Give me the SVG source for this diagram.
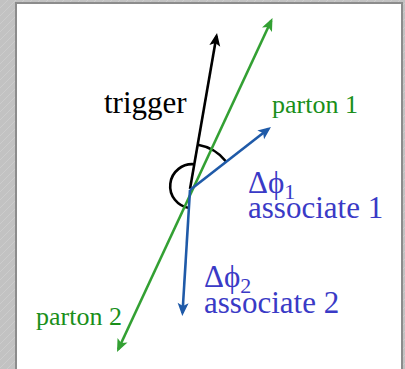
<svg xmlns="http://www.w3.org/2000/svg" width="405" height="369" viewBox="0 0 405 369">
<style>
.ln{fill:none;stroke-width:2.6;stroke-linecap:butt}
.blk{stroke:#000}
.grn{stroke:#33a033}
.blu{stroke:#1f5aa8}
.arc{fill:none;stroke:#000;stroke-width:2.6}
text{font-family:"Liberation Serif","Times New Roman",serif}
.tb{fill:#000;font-size:31px}
.tg{fill:#1a8f1a;font-size:26px}
.tu{fill:#3a3ac6;font-size:31px}
.sub{font-size:22px}
</style>
<defs>
<pattern id="hatch" width="8" height="8" patternUnits="userSpaceOnUse">
<rect width="8" height="8" fill="#c2c2c2"/>
<path d="M0,8 L8,0" stroke="#d4d4d4" stroke-width="0.6"/>
</pattern>
<marker id="ahK" markerUnits="userSpaceOnUse" viewBox="-12 -7 16 14" markerWidth="16" markerHeight="14" refX="0" refY="0" orient="auto-start-reverse">
<path d="M3,0 L-10,-5.5 L-7,0 L-10,5.5 Z" fill="#000"/>
</marker>
<marker id="ahG" markerUnits="userSpaceOnUse" viewBox="-12 -7 16 14" markerWidth="16" markerHeight="14" refX="0" refY="0" orient="auto-start-reverse">
<path d="M3,0 L-10,-5.5 L-7,0 L-10,5.5 Z" fill="#33a033"/>
</marker>
<marker id="ahB" markerUnits="userSpaceOnUse" viewBox="-12 -7 16 14" markerWidth="16" markerHeight="14" refX="0" refY="0" orient="auto-start-reverse">
<path d="M3,0 L-10,-5.5 L-7,0 L-10,5.5 Z" fill="#1f5aa8"/>
</marker>
</defs>
<rect x="0" y="0" width="405" height="369" fill="url(#hatch)"/>
<rect x="16" y="3" width="386" height="368" fill="#fff" stroke="#8c8c8c" stroke-width="2"/>
<g id="connectors">
<path class="arc" d="M197.9,144.7 A46,46 0 0 1 226.3,161.7"/>
<path class="arc" d="M194.8,164.3 A22,22 0 1 0 189.6,208"/>
<line class="ln grn" x1="118.3" y1="349.3" x2="271.2" y2="20.7" marker-start="url(#ahG)" marker-end="url(#ahG)"/>
<line class="ln blk" x1="190" y1="189" x2="216.5" y2="36" marker-end="url(#ahK)"/>
<line class="ln blu" x1="190" y1="190" x2="268.6" y2="128.8" marker-end="url(#ahB)"/>
<line class="ln blu" x1="190" y1="190" x2="182.5" y2="313" marker-end="url(#ahB)"/>
</g>
<g id="trigger"><text class="tb" x="104" y="113">trigger</text></g>
<g id="parton1"><text class="tg" x="272" y="113">parton 1</text></g>
<g id="parton2"><text class="tg" x="36" y="325">parton 2</text></g>
<g id="associate1"><text class="tu" x="248" y="193">Δϕ<tspan class="sub" dy="6">1</tspan></text><text class="tu" x="248" y="218">associate 1</text></g>
<g id="associate2"><text class="tu" x="204" y="287">Δϕ<tspan class="sub" dy="6">2</tspan></text><text class="tu" x="204" y="313">associate 2</text></g>
</svg>
